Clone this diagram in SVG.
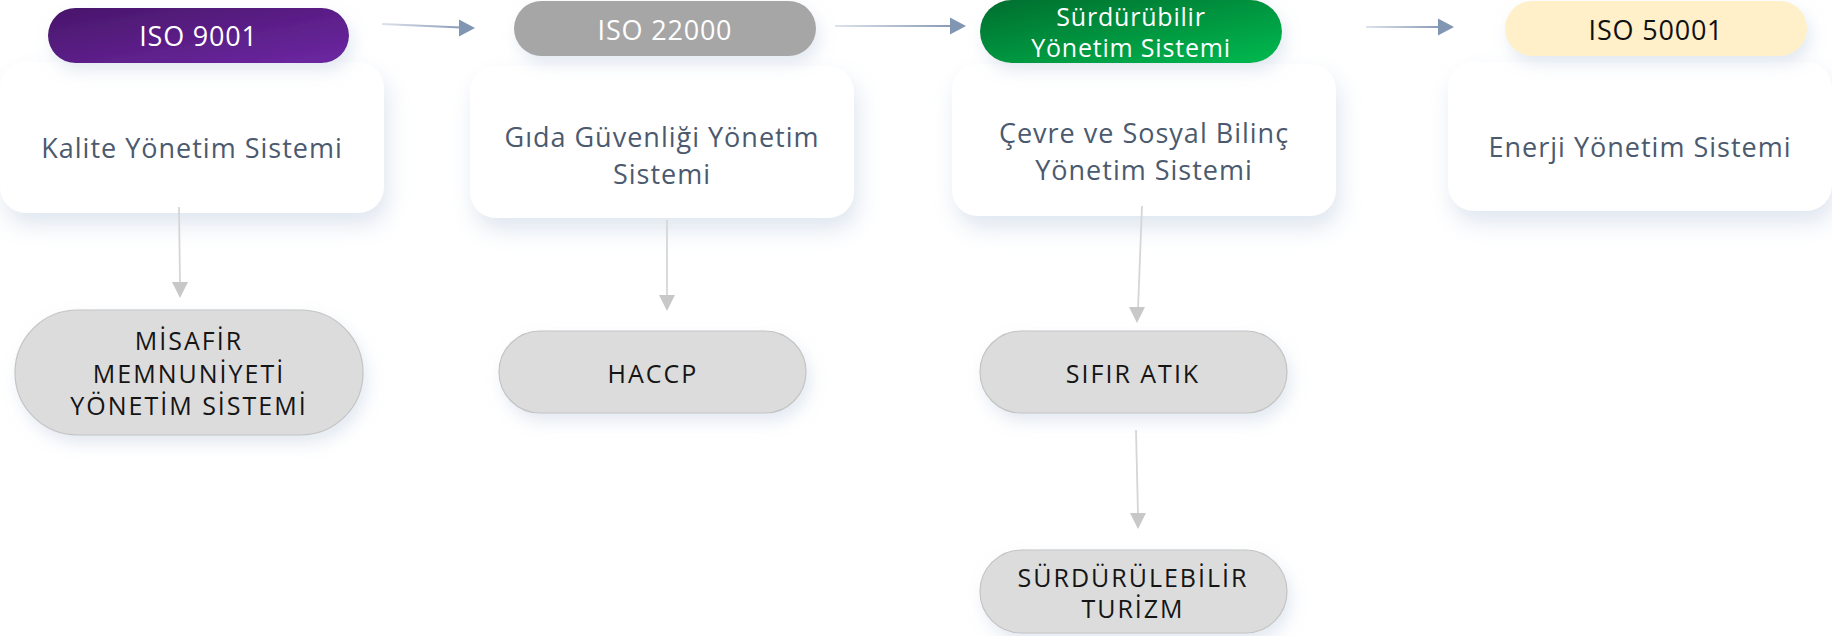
<svg xmlns="http://www.w3.org/2000/svg" width="1832" height="636" viewBox="0 0 1832 636">
<defs>
<linearGradient id="gPurple" x1="0" y1="0" x2="1" y2="1">
<stop offset="0" stop-color="#48166a"/>
<stop offset="1" stop-color="#6d27a3"/>
</linearGradient>
<linearGradient id="gGreen" x1="0" y1="0" x2="1" y2="1">
<stop offset="0" stop-color="#006e2e"/>
<stop offset="1" stop-color="#00ba50"/>
</linearGradient>
<linearGradient id="gL1" gradientUnits="userSpaceOnUse" x1="382" y1="0" x2="461" y2="0">
<stop offset="0" stop-color="#dde3ec"/>
<stop offset="1" stop-color="#8a9bb6"/>
</linearGradient>
<linearGradient id="gL2" gradientUnits="userSpaceOnUse" x1="835" y1="0" x2="951" y2="0">
<stop offset="0" stop-color="#dde3ec"/>
<stop offset="1" stop-color="#8a9bb6"/>
</linearGradient>
<linearGradient id="gL3" gradientUnits="userSpaceOnUse" x1="1366" y1="0" x2="1440" y2="0">
<stop offset="0" stop-color="#dde3ec"/>
<stop offset="1" stop-color="#8a9bb6"/>
</linearGradient>
<filter id="shCard" x="-20%" y="-30%" width="140%" height="170%">
<feDropShadow dx="4" dy="12" stdDeviation="11" flood-color="#b9c9de" flood-opacity="0.45"/>
</filter>
<filter id="shPill" x="-20%" y="-40%" width="140%" height="190%">
<feDropShadow dx="4" dy="8" stdDeviation="8" flood-color="#b9c9de" flood-opacity="0.4"/>
</filter>
</defs>
<style>
.card{fill:#ffffff;filter:url(#shCard)}
.ctext{font-family:"Open Sans","Liberation Sans",sans-serif;font-size:27px;fill:#4b5a6e;text-anchor:middle;letter-spacing:1px}
.ptext{font-family:"Open Sans","Liberation Sans",sans-serif;font-size:27px;text-anchor:middle;letter-spacing:0.8px}
.ptext2{font-family:"Open Sans","Liberation Sans",sans-serif;font-size:25px;text-anchor:middle;letter-spacing:0.8px}
.sub{fill:#dcdcdc;stroke:#c4c4c4;stroke-width:1.2;filter:url(#shPill)}
.stext{font-family:"Open Sans","Liberation Sans",sans-serif;font-size:25px;fill:#151515;text-anchor:middle;letter-spacing:2px}
.hline{stroke-width:2;fill:none}
.vline{stroke:#d6d6d6;stroke-width:1.8;fill:none}
.hhead{fill:#8196b3}
.vhead{fill:#c8c8c8}
</style>

<g id="card-iso9001">
<rect class="card" x="0" y="62" width="384" height="151" rx="26"/>
<text class="ctext" x="192" y="158">Kalite Yönetim Sistemi</text>
</g>
<g id="card-iso22000">
<rect class="card" x="470" y="66" width="384" height="152" rx="26"/>
<text class="ctext" x="662" y="147">Gıda Güvenliği Yönetim</text>
<text class="ctext" x="662" y="184">Sistemi</text>
</g>
<g id="card-surdurulebilir">
<rect class="card" x="952" y="64" width="384" height="152" rx="26"/>
<text class="ctext" x="1144" y="143">Çevre ve Sosyal Bilinç</text>
<text class="ctext" x="1144" y="180">Yönetim Sistemi</text>
</g>
<g id="card-iso50001">
<rect class="card" x="1448" y="62" width="384" height="149" rx="26"/>
<text class="ctext" x="1640" y="157">Enerji Yönetim Sistemi</text>
</g>

<g id="pill-iso9001">
<rect x="48" y="8" width="301" height="55" rx="27.5" fill="url(#gPurple)" filter="url(#shPill)"/>
<text class="ptext" x="198.5" y="46" fill="#ffffff">ISO 9001</text>
</g>
<g id="pill-iso22000">
<rect x="514" y="1" width="302" height="55" rx="27.5" fill="#a6a6a6" filter="url(#shPill)"/>
<text class="ptext" x="665" y="40" fill="#ffffff">ISO 22000</text>
</g>
<g id="pill-surdurulebilir">
<rect x="980" y="0" width="302" height="63" rx="31.5" fill="url(#gGreen)" filter="url(#shPill)"/>
<text class="ptext2" x="1131" y="26" fill="#ffffff">Sürdürübilir</text>
<text class="ptext2" x="1131" y="57" fill="#ffffff">Yönetim Sistemi</text>
</g>
<g id="pill-iso50001">
<rect x="1505" y="1" width="302" height="55" rx="27.5" fill="#fff0c9" filter="url(#shPill)"/>
<text class="ptext" x="1656" y="40" fill="#111111">ISO 50001</text>
</g>

<g id="node-misafir">
<rect class="sub" x="15" y="310" width="348" height="125" rx="62.5"/>
<text class="stext" x="189" y="350">MİSAFİR</text>
<text class="stext" x="189" y="383">MEMNUNİYETİ</text>
<text class="stext" x="189" y="415">YÖNETİM SİSTEMİ</text>
</g>
<g id="node-haccp">
<rect class="sub" x="499" y="331" width="307" height="82" rx="41"/>
<text class="stext" x="653" y="383">HACCP</text>
</g>
<g id="node-sifir-atik">
<rect class="sub" x="980" y="331" width="307" height="82" rx="41"/>
<text class="stext" x="1133" y="383">SIFIR ATIK</text>
</g>
<g id="node-surdurulebilir-turizm">
<rect class="sub" x="980" y="550" width="307" height="83" rx="41.5"/>
<text class="stext" x="1133" y="587">SÜRDÜRÜLEBİLİR</text>
<text class="stext" x="1133" y="618">TURİZM</text>
</g>

<g id="connectors">
<line class="hline" stroke="url(#gL1)" x1="382" y1="24" x2="461" y2="27.5"/>
<polygon class="hhead" points="475,28 459,19.5 459,36.5"/>
<line class="hline" stroke="url(#gL2)" x1="835" y1="26" x2="951" y2="26"/>
<polygon class="hhead" points="966,26 950,17.5 950,34.5"/>
<line class="hline" stroke="url(#gL3)" x1="1366" y1="27" x2="1440" y2="27"/>
<polygon class="hhead" points="1454,27 1438,18.5 1438,35.5"/>
<line class="vline" x1="179" y1="207" x2="180" y2="284"/>
<polygon class="vhead" points="180,298 172,282 188,282"/>
<line class="vline" x1="667" y1="220" x2="667" y2="297"/>
<polygon class="vhead" points="667,311 659,295 675,295"/>
<line class="vline" x1="1142" y1="206" x2="1138" y2="309"/>
<polygon class="vhead" points="1137,323 1129,307 1145,307"/>
<line class="vline" x1="1136" y1="430" x2="1138" y2="515"/>
<polygon class="vhead" points="1138,529 1130,513 1146,513"/>
</g>
</svg>
